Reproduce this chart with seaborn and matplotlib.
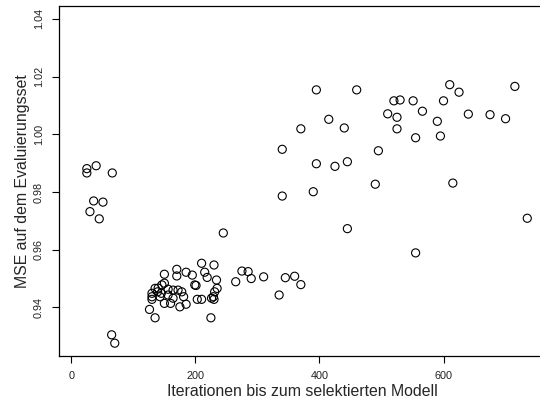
import numpy as np
import pandas as pd
import matplotlib
matplotlib.use('Agg')
import matplotlib.pyplot as plt
import seaborn as sns

# Iterations until the selected model and the MSE on the evaluation set
iterations = [
    25, 25, 40, 66, 36, 51, 30, 45, 65, 70, 245,
    126, 135, 130, 130, 130, 135, 139, 143, 140, 145, 146, 150, 150, 150,
    156, 156, 160, 164, 164, 170, 170, 172, 175, 178, 181, 185, 185, 195,
    199, 201, 203, 210, 210, 215, 219, 225, 226, 229, 230, 230, 231, 234,
    235, 265, 275, 285, 290, 310,
    395, 460, 520, 530, 551, 610, 625, 715, 600, 510, 525, 566, 640, 675,
    700, 415, 370, 440, 525, 590, 595, 555, 340, 495, 395, 425, 445, 490,
    615, 390, 340, 445, 555, 735, 345, 360, 370, 335,
]
mse = [
    0.9881, 0.9866, 0.9891, 0.9866, 0.9769, 0.9765, 0.9732, 0.9707, 0.9305, 0.9276, 0.9658,
    0.9393, 0.9364, 0.9449, 0.9437, 0.9428, 0.9466, 0.9454, 0.9437, 0.9467, 0.9449,
    0.9478, 0.9515, 0.9484, 0.9414, 0.9463, 0.9443, 0.9414, 0.9460, 0.9432, 0.9532,
    0.9509, 0.9460, 0.9402, 0.9454, 0.9437, 0.9522, 0.9411, 0.9512, 0.9478, 0.9476,
    0.9428, 0.9428, 0.9553, 0.9522, 0.9504, 0.9364, 0.9432, 0.9437, 0.9547, 0.9428,
    0.9454, 0.9495, 0.9466, 0.9489, 0.9526, 0.9524, 0.9500, 0.9506,
    1.0154, 1.0154, 1.0116, 1.0119, 1.0116, 1.0172, 1.0146, 1.0166, 1.0116, 1.0071,
    1.0059, 1.0080, 1.0070, 1.0068, 1.0054, 1.0052, 1.0019, 1.0022, 1.0019, 1.0045,
    0.9994, 0.9988, 0.9948, 0.9943, 0.9898, 0.9889, 0.9905, 0.9827, 0.9831, 0.9801,
    0.9786, 0.9673, 0.9589, 0.9709, 0.9503, 0.9508, 0.9479, 0.9443,
]
x_ticks = [0, 200, 400, 600]
y_ticks = [0.94, 0.96, 0.98, 1.00, 1.02, 1.04]
y_tick_labels = ['0.94', '0.96', '0.98', '1.00', '1.02', '1.04']

df = pd.DataFrame({'iter': iterations, 'mse': mse})

sns.set_style('ticks')
plt.rcParams['font.family'] = ['Liberation Sans', 'DejaVu Sans']

fig = plt.figure(figsize=(5.4, 4.05), dpi=100)
ax = fig.add_axes([59.3 / 540, 49 / 405, (546 - 59.3) / 540, 350 / 405])

sns.scatterplot(data=df, x='iter', y='mse', ax=ax, marker='o', s=34,
                facecolor='none', edgecolor='black', linewidth=0.8)

ax.set_xlim(-19.4, 765.2)
ax.set_ylim(0.92316, 1.04447)
ax.set_xticks(x_ticks)
ax.set_xticklabels([str(t) for t in x_ticks])
ax.set_yticks(y_ticks)
ax.set_yticklabels(y_tick_labels, rotation=90, va='center')
ax.tick_params(axis='both', length=5, width=0.8, color='black',
               labelsize=7.8, pad=6, labelcolor='#222222')

for sp in ax.spines.values():
    sp.set_visible(True)
    sp.set_linewidth(0.9)
    sp.set_color('black')

ax.set_xlabel('Iterationen bis zum selektierten Modell', fontsize=11.4, va='center')
ax.set_ylabel('MSE auf dem Evaluierungsset', fontsize=11.4, va='center')
ax.xaxis.set_label_coords(0.5, -0.1)
ax.yaxis.set_label_coords(-0.0766, 0.5)

fig.savefig('out.png', dpi=100)
